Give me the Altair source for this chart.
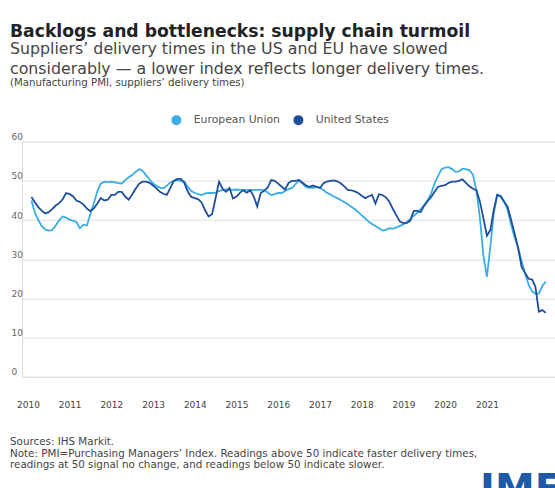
import altair as alt
import pandas as pd

# ---------------- text ----------------
title_text = "Backlogs and bottlenecks: supply chain turmoil"
subtitle_lines = [
    "Suppliers’ delivery times in the US and EU have slowed",
    "considerably — a lower index reflects longer delivery times.",
]
unit_note = "(Manufacturing PMI, suppliers’ delivery times)"
footer_lines = [
    "Sources: IHS Markit.",
    "Note: PMI=Purchasing Managers’ Index. Readings above 50 indicate faster delivery times,",
    "readings at 50 signal no change, and readings below 50 indicate slower.",
]
logo_text = "IMF"

# ---------------- data ----------------
series_names = ["European Union", "United States"]
series_colors = ["#3aaee4", "#1f4f9c"]
start_month = "2010-02-01"
year_labels = list(range(2010, 2022))
y_ticks = [0, 10, 20, 30, 40, 50, 60]

eu_values = [
    45.0, 42.0, 40.0, 38.5, 37.6, 37.3, 37.4, 38.6, 39.9, 40.9,
    40.6, 40.1, 39.8, 39.5, 37.9, 38.8, 38.6, 41.5, 44.3, 47.4,
    49.3, 49.8, 49.7, 49.8, 49.6, 49.4, 49.3, 50.2, 50.9, 51.5,
    52.3, 53.0, 52.6, 51.4, 50.3, 49.3, 48.7, 48.3, 48.1, 48.8,
    49.6, 50.0, 50.2, 50.0, 49.8, 48.4, 47.4, 46.9, 46.6, 46.4,
    46.8, 46.9, 46.9, 47.0, 47.4, 47.7, 47.8, 47.7, 47.7, 47.8,
    47.7, 47.7, 47.7, 47.6, 47.7, 47.7, 47.7, 47.6, 47.0, 46.4,
    46.6, 46.9, 46.9, 47.4, 47.9, 48.2, 49.2, 50.1, 49.3, 48.4,
    48.2, 48.2, 48.4, 48.2, 47.6, 47.0, 46.5, 46.0, 45.6, 45.1,
    44.6, 44.0, 43.4, 42.8, 42.0, 41.2, 40.4, 39.6, 39.0, 38.5,
    37.9, 37.3, 37.5, 37.9, 37.8, 38.1, 38.5, 38.9, 39.5, 40.2,
    41.1, 41.8, 42.8, 43.8, 45.1, 46.8, 49.4, 51.3, 53.0, 53.4,
    53.5, 53.0, 52.3, 52.4, 53.1, 53.0, 52.7, 51.6, 47.5, 40.5,
    31.0, 25.5, 33.5, 41.5, 46.5, 46.2, 44.8, 42.6, 38.8, 35.5,
    33.0, 29.5, 26.3, 23.5, 21.8, 21.2, 21.2, 23.2, 24.3,
]

us_values = [
    45.9, 44.6, 43.3, 42.4, 41.7, 42.0, 42.8, 43.7, 44.3, 45.3,
    46.9, 46.6, 46.0, 45.0, 44.6, 44.0, 42.9, 42.3, 43.0, 44.2,
    45.6, 45.0, 45.2, 46.4, 46.4, 47.2, 47.2, 46.0, 45.2, 46.5,
    48.0, 49.3, 49.8, 49.8, 49.5, 48.8, 48.0, 47.2, 46.7, 46.4,
    48.2, 50.0, 50.5, 50.5, 49.5, 47.2, 45.9, 45.6, 45.3, 44.5,
    42.5, 40.9, 41.5, 45.5, 49.8, 48.0, 47.2, 48.2, 45.5, 46.0,
    47.0, 47.6, 47.0, 47.6, 46.0, 43.5, 46.9, 47.5, 48.3, 50.2,
    50.0, 49.3, 48.5, 47.8, 49.5, 50.0, 50.0, 50.2, 49.5, 48.8,
    48.5, 48.8, 48.5, 48.2, 49.4, 49.8, 50.0, 50.1, 49.9, 49.4,
    48.6, 47.7, 47.6, 47.3, 46.9, 46.2, 45.6, 46.0, 46.4, 44.2,
    46.6, 46.4, 45.8, 44.6, 42.8, 41.2, 39.6, 39.2, 39.3, 39.8,
    42.3, 42.4, 42.0, 43.6, 44.8, 45.9, 47.2, 48.5, 48.7, 48.9,
    49.5, 49.8, 49.8, 50.0, 50.4, 49.5, 48.6, 48.0, 47.6, 44.7,
    40.5, 36.0, 37.5, 42.5, 46.4, 46.0, 44.6, 43.4, 40.0, 36.5,
    32.8, 28.0, 26.5, 25.0, 24.8, 23.0, 16.6, 17.0, 16.3,
]

# ---------------- table ----------------
dates = pd.date_range(start_month, periods=len(eu_values), freq="MS").strftime("%Y-%m-%d")
df = pd.concat([
    pd.DataFrame({"date": dates, "value": eu_values, "series": series_names[0]}),
    pd.DataFrame({"date": dates, "value": us_values, "series": series_names[1]}),
], ignore_index=True)

FONT = "DejaVu Sans"

x_enc = alt.X(
    "date:T",
    scale=alt.Scale(
        domain=[alt.DateTime(year=2009, month=11, date=10),
                alt.DateTime(year=2022, month=8, date=20)],
        nice=False,
    ),
    axis=alt.Axis(
        values=[alt.DateTime(year=y, month=1, date=1) for y in year_labels],
        format="%Y", title=None, grid=False, domain=False, ticks=False,
        labelPadding=24, labelFlush=False, labelOverlap=False,
        labelFontSize=9, labelColor="#444", labelFont=FONT,
    ),
)
y_enc = alt.Y(
    "value:Q",
    scale=alt.Scale(domain=[0, 60], nice=False),
    axis=alt.Axis(
        values=y_ticks, title=None, domain=False, ticks=False, tickSize=0,
        labelAlign="left", labelBaseline="bottom", labelPadding=11,
        labelFontSize=9, labelColor="#666", labelFont=FONT,
        gridColor="#dedede", gridWidth=1,
    ),
)
color_scale = alt.Scale(domain=series_names, range=series_colors)

lines = alt.Chart(df).mark_line(strokeWidth=1.8).encode(
    x=x_enc, y=y_enc,
    color=alt.Color(
        "series:N", scale=color_scale,
        legend=alt.Legend(
            orient="none", legendX=149, legendY=-27, direction="horizontal",
            title=None, symbolType="circle", symbolSize=25, symbolStrokeWidth=5,
            labelFontSize=10.8, labelColor="#555", labelFont=FONT,
            labelOffset=12, columnPadding=5, padding=0,
        ),
    ),
)

note = alt.Chart(pd.DataFrame({"t": [unit_note]})).mark_text(
    align="left", baseline="middle", fontSize=10.2, color="#444", font=FONT
).encode(x=alt.value(-12), y=alt.value(-59), text="t:N")

footer = alt.Chart(pd.DataFrame({"t": ["\n".join(footer_lines)]})).mark_text(
    align="left", baseline="top", fontSize=10.35, color="#444", font=FONT,
    lineBreak="\n", lineHeight=11.5,
).encode(x=alt.value(-12), y=alt.value(295.5), text="t:N")

logo = alt.Chart(pd.DataFrame({"t": [logo_text]})).mark_text(
    align="left", baseline="alphabetic", fontSize=40, fontWeight="bold",
    color="#1f5aa6", font=FONT,
).encode(x=alt.value(458), y=alt.value(361), text="t:N")

chart = alt.layer(lines, note, footer, logo).properties(
    width=533, height=235,
    autosize=alt.AutoSizeParams(type="none"),
    padding={"left": 22, "top": 141.7, "right": 0, "bottom": 111.3},
    title=alt.TitleParams(
        text=title_text, subtitle=subtitle_lines,
        anchor="start", frame="group", dx=-12, offset=1,
        font=FONT, fontSize=17.2, fontWeight="bold", color="#222",
        subtitleFont=FONT, subtitleFontSize=15.8, subtitleColor="#444",
        subtitleLineHeight=19.5, subtitlePadding=2,
    ),
).configure_view(stroke=None).configure(font=FONT, background="white")

chart.save("out.html", embed_options={"renderer": "svg", "actions": False})
